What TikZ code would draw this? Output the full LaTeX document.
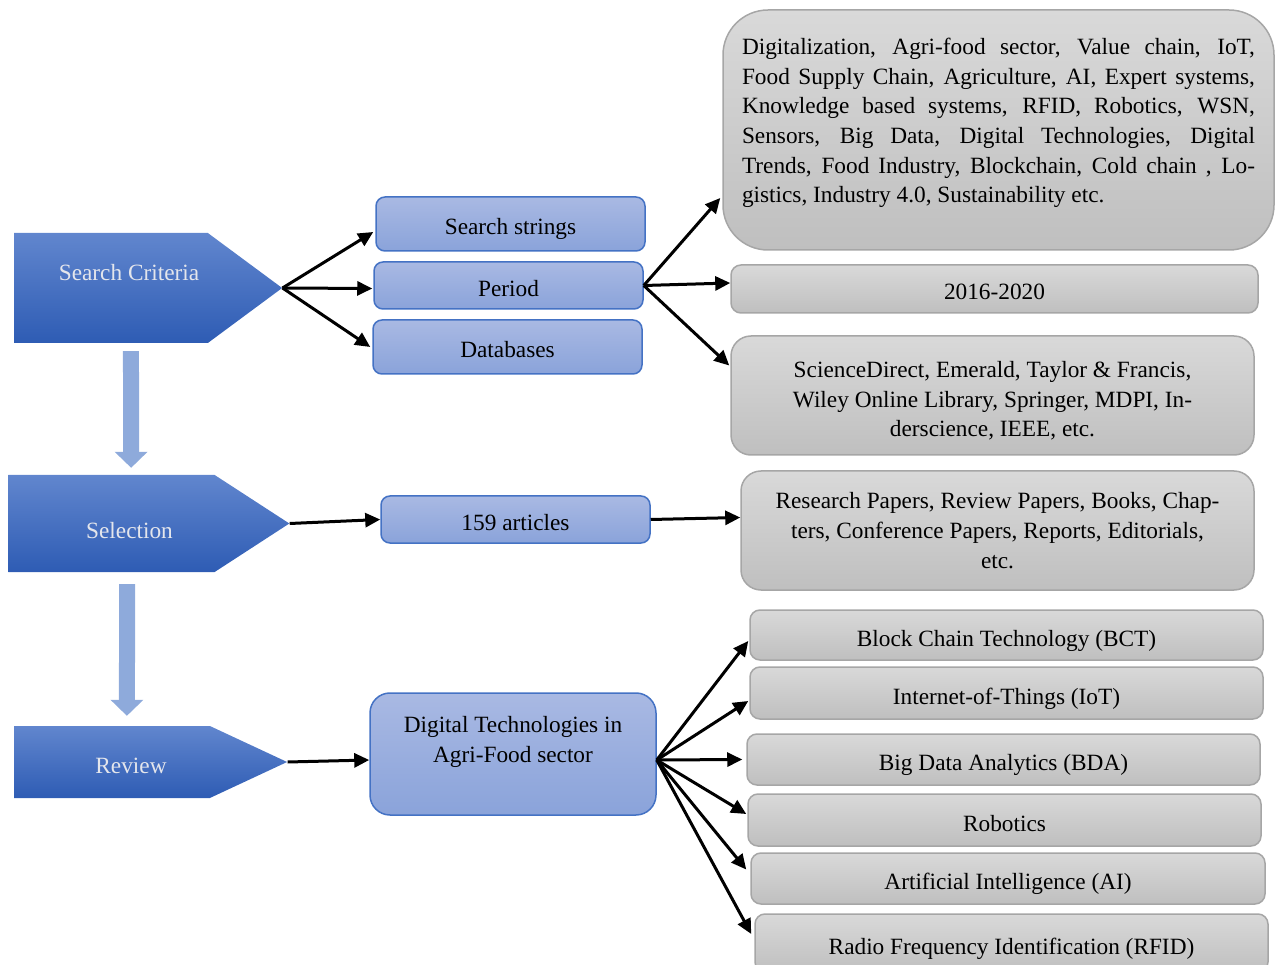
\documentclass[tikz,border=0pt]{standalone}
\usepackage{fontspec}
\setmainfont{Liberation Serif}
\usetikzlibrary{shapes.symbols,arrows.meta}

\definecolor{chevtop}{HTML}{6186CE}
\definecolor{chevmid}{HTML}{3B6DCA}
\definecolor{chevbot}{HTML}{2E5CB4}
\definecolor{chevtext}{HTML}{E4E6EC}
\definecolor{bluetop}{HTML}{A9B9E3}
\definecolor{bluebot}{HTML}{8AA3DA}
\definecolor{boxline}{HTML}{4472C4}
\definecolor{graytop}{HTML}{D9D9D9}
\definecolor{graybot}{HTML}{BFBFBF}
\definecolor{grayline}{HTML}{A6A6A6}
\definecolor{flowblue}{HTML}{8EAADB}

\begin{document}
\begin{tikzpicture}[
    x=1pt, y=-1pt,
    every node/.style={font=\fontsize{23.3}{29.7}\selectfont},
    chevron/.style={signal, signal to=east, top color=chevtop, middle color=chevmid,
        bottom color=chevbot, text=chevtext, inner sep=0pt},
    bluebox/.style={rectangle, rounded corners=9pt, draw=boxline, line width=1.5pt,
        top color=bluetop, bottom color=bluebot, inner sep=0pt},
    graybox/.style={rectangle, rounded corners=10pt, draw=grayline, line width=1.5pt,
        top color=graytop, bottom color=graybot, inner sep=0pt},
    single/.style={text height=23pt, text depth=1pt},
    arr/.style={line width=3pt, -{Triangle[length=15pt,width=14pt]}},
    blockarr/.style={draw=flowblue, line width=16pt, -{Triangle[length=16pt,width=32pt]}}
]
    \useasboundingbox (0,0) rectangle (1278,965);

    % stages
    \node[chevron, minimum width=268pt, minimum height=110pt, signal pointer angle=73,
        text height=2pt, text depth=16pt] (crit) at (111,288) {\hspace*{36pt}Search Criteria};
    \node[chevron, minimum width=281pt, minimum height=97pt, signal pointer angle=66,
        text height=30pt, text depth=1pt] (sel) at (111.5,523.5) {\hspace*{36pt}Selection};
    \node[chevron, minimum width=273pt, minimum height=72pt, signal pointer angle=50,
        single] (rev) at (112,762) {\hspace*{38pt}Review};

    \draw[blockarr] ([shift={(117,8)}]crit.south west) -- ([shift={(123,-7)}]sel.north west);
    \draw[blockarr] ([shift={(119,12)}]sel.south west) -- ([shift={(113,-10)}]rev.north west);

    % blue boxes
    \node[bluebox, single, minimum width=269pt, minimum height=54pt] (search) at (510.5,224) {Search strings};
    \node[bluebox, single, minimum width=269pt, minimum height=47pt] (period) at (508.5,285.5) {Period};
    \node[bluebox, single, minimum width=269pt, minimum height=54pt] (dbs) at (507.5,347) {Databases};
    \node[bluebox, single, minimum width=269pt, minimum height=47pt] (arts) at (515.5,519.5) {159 articles};
    \node[bluebox, rounded corners=20pt, minimum width=286pt, minimum height=122pt, align=center] (tech) at (513,754)
        {Digital Technologies in\\Agri-Food sector\\\mbox{}};

    % gray boxes
    \node[graybox, rounded corners=45pt, minimum width=551pt, minimum height=240pt,
        text width=513pt, align=justify] (kw) at (998.5,130)
        {Digitalization, Agri-food sector, Value chain, IoT,\linebreak
         Food Supply Chain, Agriculture, AI, Expert systems,\linebreak
         Knowledge based systems, RFID, Robotics, WSN,\linebreak
         Sensors, Big Data, Digital Technologies, Digital\linebreak
         Trends, Food Industry, Blockchain, Cold chain , Lo-\linebreak
         gistics, Industry 4.0, Sustainability etc.\par\nointerlineskip\hrule height 14pt width 0pt};
    \node[graybox, single, minimum width=527pt, minimum height=48pt] (date) at (994.5,289) {2016-2020};
    \node[graybox, rounded corners=20pt, minimum width=523pt, minimum height=119pt, align=center] (libs) at (992.5,395.5)
        {\\[-3pt]ScienceDirect, Emerald, Taylor \& Francis,\\Wiley Online Library, Springer, MDPI, In-\\derscience, IEEE, etc.};
    \node[graybox, rounded corners=20pt, minimum width=513pt, minimum height=119pt, align=center] (types) at (997.5,530.5)
        {Research Papers, Review Papers, Books, Chap-\\ters, Conference Papers, Reports, Editorials,\\etc.};
    \node[graybox, single, minimum width=513pt, minimum height=50pt] (bct) at (1006.5,635) {Block Chain Technology (BCT)};
    \node[graybox, single, minimum width=513pt, minimum height=52pt] (iot) at (1006.5,693) {Internet-of-Things (IoT)};
    \node[graybox, single, minimum width=513pt, minimum height=51pt] (bda) at (1003.5,759.5) {Big Data Analytics (BDA)};
    \node[graybox, single, minimum width=513pt, minimum height=52pt] (rob) at (1004.5,820) {Robotics};
    \node[graybox, single, minimum width=514pt, minimum height=51pt] (ai) at (1008,878.5) {Artificial Intelligence (AI)};
    \node[graybox, single, minimum width=513pt, minimum height=58pt] (rfid) at (1011.5,943) {Radio Frequency Identification (RFID)};

    % connectors
    \draw[arr] (crit.east) -- ([shift={(-2,8)}]search.west);
    \draw[arr] (crit.east) -- ([shift={(-1,3)}]period.west);
    \draw[arr] (crit.east) -- ([shift={(-2,0)}]dbs.west);

    \draw[arr] (period.east) -- ([shift={(-2,68)}]kw.west);
    \draw[arr] (period.east) -- ([shift={(0,-6)}]date.west);
    \draw[arr] (period.east) -- ([shift={(-1,-30)}]libs.west);

    \draw[arr] (sel.east) -- (arts.west);
    \draw[arr] (arts.east) -- ([shift={(0,-13)}]types.west);

    \draw[arr] (rev.east) -- ([shift={(0,6)}]tech.west);
    \coordinate (fan) at ([shift={(0,6)}]tech.east);
    \draw[arr] (fan) -- ([shift={(-1,6)}]bct.west);
    \draw[arr] (fan) -- ([shift={(-1,8)}]iot.west);
    \draw[arr] (fan) -- ([shift={(-4,0)}]bda.west);
    \draw[arr] (fan) -- ([shift={(-1,-6)}]rob.west);
    \draw[arr] (fan) -- ([shift={(-4,-9)}]ai.west);
    \draw[arr] (fan) -- ([shift={(-3,-9)}]rfid.west);
\end{tikzpicture}
\end{document}
